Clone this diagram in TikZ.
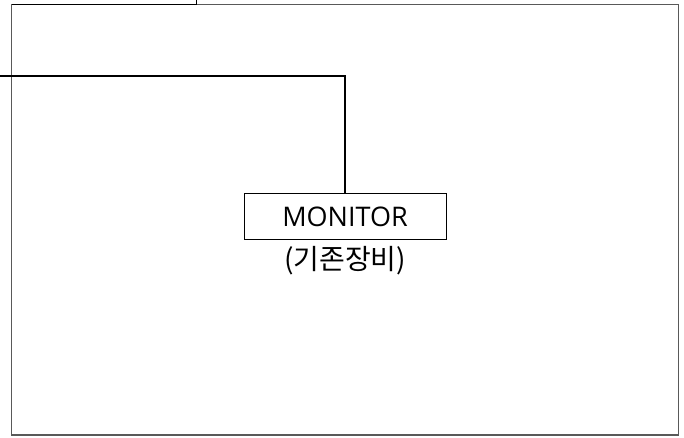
\documentclass[tikz,border=0pt]{standalone}
\usepackage{fontspec}
\setmainfont{Open Sans}
\newfontfamily\krfont{Noto Sans CJK KR}
\usetikzlibrary{positioning}

\begin{document}
\begin{tikzpicture}[x=1pt, y=-1pt]

  \useasboundingbox (0,0) rectangle (684,438);

  % outer frame
  \draw[black!65, line width=1.8pt] (11.5,4.5) rectangle (678.5,435);

  % corner of the box above
  \draw[black, line width=1.4pt] (11.5,4.5) -- (196.5,4.5) -- (196.5,-2);

  \node[draw, line width=1pt, minimum width=202pt, minimum height=45pt,
        inner sep=0pt, font=\fontsize{27}{32}\selectfont] (monitor) at (345,216.5) {MONITOR};
  \node[below=7pt of monitor, inner sep=0pt, font=\krfont\fontsize{28}{32}\selectfont] (monlabel) {(기존장비)};

  \coordinate (cablein) at (-2,76);
  \draw[line width=2.2pt] (cablein) -| (monitor.north);

\end{tikzpicture}
\end{document}
